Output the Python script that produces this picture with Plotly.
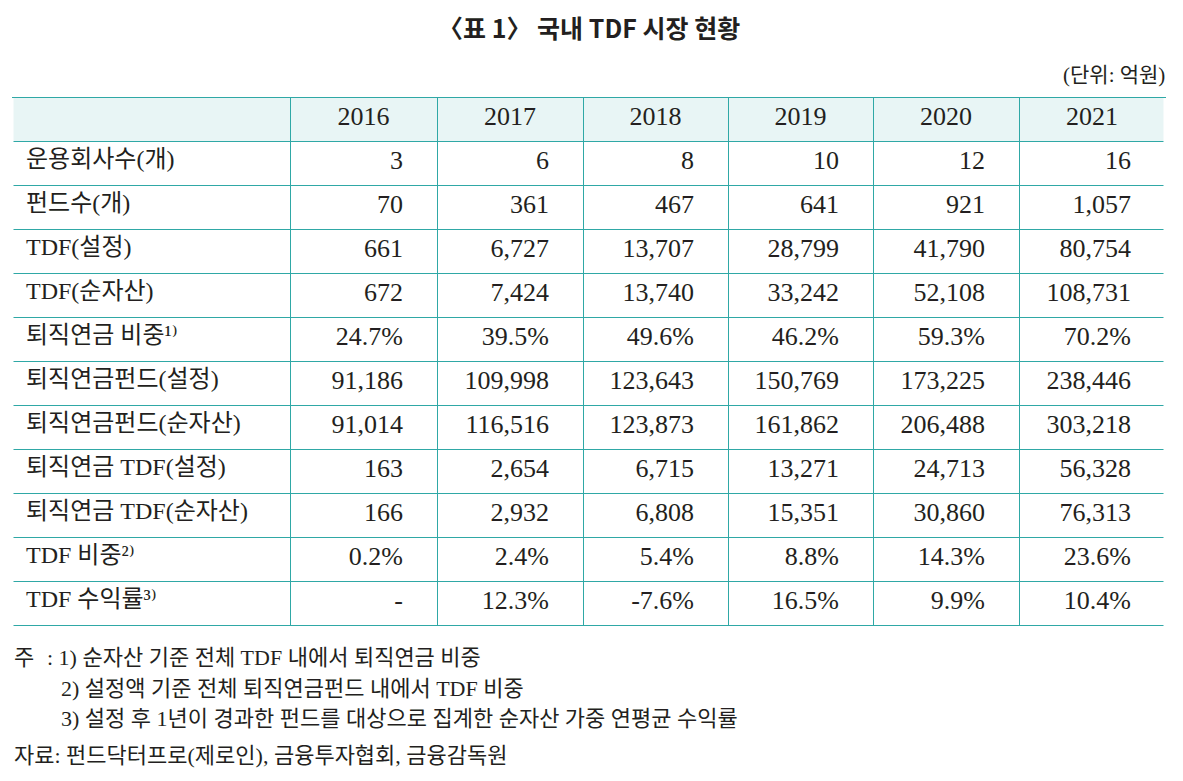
import plotly.graph_objects as go

# ---------------- data ----------------
title_text = "〈표 1〉 국내 TDF 시장 현황"
unit_text = "(단위: 억원)"

years = ["2016", "2017", "2018", "2019", "2020", "2021"]

row_labels = [
    "운용회사수(개)",
    "펀드수(개)",
    "TDF(설정)",
    "TDF(순자산)",
    "퇴직연금 비중¹⁾",
    "퇴직연금펀드(설정)",
    "퇴직연금펀드(순자산)",
    "퇴직연금 TDF(설정)",
    "퇴직연금 TDF(순자산)",
    "TDF 비중²⁾",
    "TDF 수익률³⁾",
]
# 'n' = integer count with thousands separator, 'p' = percent
row_kind = ["n", "n", "n", "n", "p", "n", "n", "n", "n", "p", "p"]

v2016 = [3, 70, 661, 672, 24.7, 91186, 91014, 163, 166, 0.2, None]
v2017 = [6, 361, 6727, 7424, 39.5, 109998, 116516, 2654, 2932, 2.4, 12.3]
v2018 = [8, 467, 13707, 13740, 49.6, 123643, 123873, 6715, 6808, 5.4, -7.6]
v2019 = [10, 641, 28799, 33242, 46.2, 150769, 161862, 13271, 15351, 8.8, 16.5]
v2020 = [12, 921, 41790, 52108, 59.3, 173225, 206488, 24713, 30860, 14.3, 9.9]
v2021 = [16, 1057, 80754, 108731, 70.2, 238446, 303218, 56328, 76313, 23.6, 10.4]

notes_label = "주"
notes = [
    ": 1) 순자산 기준 전체 TDF 내에서 퇴직연금 비중",
    "2) 설정액 기준 전체 퇴직연금펀드 내에서 TDF 비중",
    "3) 설정 후 1년이 경과한 펀드를 대상으로 집계한 순자산 가중 연평균 수익률",
]
source_text = "자료: 펀드닥터프로(제로인), 금융투자협회, 금융감독원"

# ---------------- formatting ----------------
NB = "\u00a0"
RPAD = NB * 4
LPAD = NB * 1


def fmt(v, kind):
    if v is None:
        return "-" + RPAD
    if kind == "p":
        return f"{v:.1f}%" + RPAD
    return f"{int(v):,}" + RPAD


cols_vals = [v2016, v2017, v2018, v2019, v2020, v2021]
cell_columns = [[LPAD + s for s in row_labels]]
for col in cols_vals:
    cell_columns.append([fmt(v, k) for v, k in zip(col, row_kind)])

# the page body has an 8px margin; work in page pixels and convert
OFF = 8
W, H = 1183 - OFF, 781 - OFF


def px(x):
    return (x - OFF) / W


def py(y):
    return 1 - (y - OFF) / H


TEAL = "#2fa8a6"
HEAD_FILL = "#e8f5f5"
INK = "#231f20"
SERIF = "Liberation Serif, DejaVu Serif, Noto Sans CJK KR"
SANS = "Noto Sans CJK KR"

tbl_left, tbl_right, tbl_top = 12, 1165, 97
col_w = [278, 147, 146, 145, 145, 146, 146]
head_h, row_h = 44, 44

fig = go.Figure()
fig.add_trace(
    go.Table(
        domain=dict(x=[px(tbl_left), px(tbl_right)], y=[0.05, py(tbl_top)]),
        columnwidth=col_w,
        header=dict(
            values=[""] + years,
            fill_color=HEAD_FILL,
            line=dict(color=TEAL, width=1),
            align="center",
            font=dict(family=SERIF, size=26, color=INK),
            height=head_h,
        ),
        cells=dict(
            values=cell_columns,
            fill_color="white",
            line=dict(color=TEAL, width=1),
            align=["left"] + ["right"] * 6,
            font=dict(family=SERIF, size=[24] + [26] * 6, color=INK),
            height=row_h,
        ),
    )
)

# hide outer vertical borders (the reference table is open on both sides)
tbl_bottom = tbl_top + head_h + row_h * len(row_labels)
shapes = []
for xe in (tbl_left, tbl_right):
    shapes.append(
        dict(
            type="line", xref="paper", yref="paper",
            x0=px(xe), x1=px(xe),
            y0=py(tbl_top + 1), y1=py(tbl_bottom + 4),
            line=dict(color="white", width=3), layer="above",
        )
    )

annotations = [
    dict(text=f"<b>{title_text}</b>", x=px(589), y=1.0, xref="paper", yref="paper",
         showarrow=False, xanchor="center", yanchor="top", borderpad=0,
         font=dict(family=SANS, size=25, color=INK)),
    dict(text=unit_text, x=px(1167), y=py(75), xref="paper", yref="paper",
         showarrow=False, xanchor="right", yanchor="middle",
         font=dict(family=SERIF, size=21, color=INK)),
    dict(text=notes_label, x=px(12), y=py(657), xref="paper", yref="paper",
         showarrow=False, xanchor="left", yanchor="middle",
         font=dict(family=SERIF, size=22, color=INK)),
]
note_x = [45, 59, 59]
note_y = [657, 688, 718]
for t, nx, ny in zip(notes, note_x, note_y):
    annotations.append(
        dict(text=t, x=px(nx), y=py(ny), xref="paper", yref="paper",
             showarrow=False, xanchor="left", yanchor="middle",
             font=dict(family=SERIF, size=22, color=INK))
    )
annotations.append(
    dict(text=source_text, x=px(12), y=py(755), xref="paper", yref="paper",
         showarrow=False, xanchor="left", yanchor="middle",
         font=dict(family=SERIF, size=22, color=INK))
)

fig.update_layout(
    width=W, height=H,
    margin=dict(l=0, r=0, t=0, b=0),
    paper_bgcolor="white", plot_bgcolor="white",
    shapes=shapes, annotations=annotations,
)

fig.write_html("out.html")
